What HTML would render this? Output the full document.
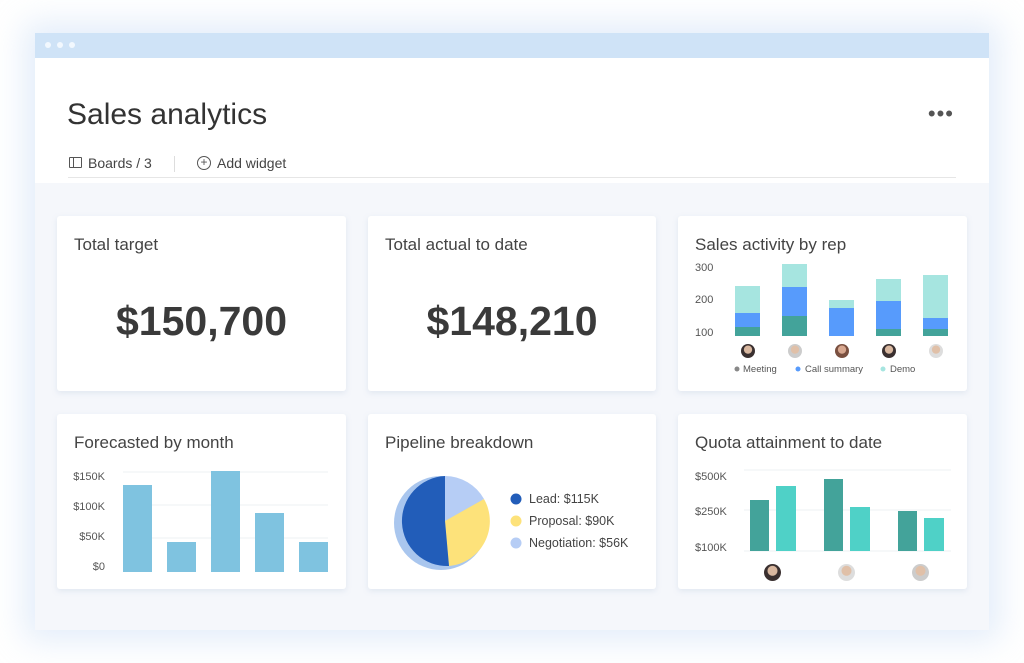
<!DOCTYPE html><html><head><meta charset="utf-8"><style>
*{margin:0;padding:0;box-sizing:border-box}
body{width:1024px;height:663px;background:#fff;font-family:"Liberation Sans",sans-serif;position:relative;overflow:hidden;color:#333}
.win{position:absolute;left:35px;top:33px;width:954px;height:597px;background:#f5f7fb;box-shadow:0 0 30px 10px rgba(200,220,245,.5)}
.bar{position:absolute;left:0;top:0;width:954px;height:25px;background:#cfe3f7}
.dot{position:absolute;top:9px;width:6px;height:6px;border-radius:50%;background:#f2f8fe}
.hdr{position:absolute;left:0;top:25px;width:954px;height:125px;background:#fff}
.card{position:absolute;background:#fff;border-radius:3px;box-shadow:0 2px 6px rgba(180,195,220,.3)}
.t{position:absolute;left:17px;top:19px;font-size:17px;color:#444}
.big{position:absolute;left:0;width:100%;top:82px;text-align:center;font-size:41px;font-weight:bold;color:#3a3a3a}
.a{position:absolute;font-size:11px;color:#555}
.b{position:absolute}
.av{position:absolute;width:14px;height:14px;border-radius:50%;background:radial-gradient(circle at 50% 40%,#d9b8a0 35%,#3a3030 40%)}
</style></head><body>
<div class="win">
<div class="bar"><div class="dot" style="left:10px"></div><div class="dot" style="left:22px"></div><div class="dot" style="left:34px"></div></div>
<div class="hdr">
<div style="position:absolute;left:32px;top:40px;font-size:30px;color:#333">Sales analytics</div>
<div style="position:absolute;right:35px;top:43px;font-size:22px;color:#555;letter-spacing:1px">•••</div>
<div style="position:absolute;left:34px;top:99px;width:13px;height:11px;border:1.3px solid #555;border-radius:1px"><div style="position:absolute;left:3px;top:0;width:1.3px;height:9px;background:#555"></div></div>
<div style="position:absolute;left:53px;top:97px;font-size:14px;color:#444">Boards / 3</div>
<div style="position:absolute;left:139px;top:98px;width:1px;height:16px;background:#ddd"></div>
<div style="position:absolute;left:162px;top:98px;width:14px;height:14px;border:1.3px solid #555;border-radius:50%;font-size:12px;line-height:11px;text-align:center;color:#555">+</div>
<div style="position:absolute;left:182px;top:97px;font-size:14px;color:#444">Add widget</div>
<div style="position:absolute;left:33px;top:119px;width:888px;height:1px;background:#e6e6e6"></div>
</div>
</div>

<div class="card" style="left:57px;top:216px;width:289px;height:175px"><div class="t">Total target</div><div class="big">$150,700</div></div>
<div class="card" style="left:368px;top:216px;width:288px;height:175px"><div class="t">Total actual to date</div><div class="big">$148,210</div></div>
<div class="card" style="left:678px;top:216px;width:289px;height:175px"><div class="t">Sales activity by rep</div></div>
<div class="card" style="left:57px;top:414px;width:289px;height:175px"><div class="t">Forecasted by month</div></div>
<div class="card" style="left:368px;top:414px;width:288px;height:175px"><div class="t">Pipeline breakdown</div></div>
<div class="card" style="left:678px;top:414px;width:289px;height:175px"><div class="t">Quota attainment to date</div></div>

<div class="a" style="left:695px;top:262px">300</div><div class="a" style="left:695px;top:294px">200</div><div class="a" style="left:695px;top:327px">100</div>
<svg class="b" style="left:0;top:0" width="1024" height="663">
<g>
<rect x="735" y="286" width="25" height="27" fill="#a6e5e0"/><rect x="735" y="313" width="25" height="14" fill="#579bfc"/><rect x="735" y="327" width="25" height="9" fill="#43a39a"/>
<rect x="782" y="264" width="25" height="23" fill="#a6e5e0"/><rect x="782" y="287" width="25" height="29" fill="#579bfc"/><rect x="782" y="316" width="25" height="20" fill="#43a39a"/>
<rect x="829" y="300" width="25" height="8" fill="#a6e5e0"/><rect x="829" y="308" width="25" height="28" fill="#579bfc"/>
<rect x="876" y="279" width="25" height="22" fill="#a6e5e0"/><rect x="876" y="301" width="25" height="28" fill="#579bfc"/><rect x="876" y="329" width="25" height="7" fill="#43a39a"/>
<rect x="923" y="275" width="25" height="43" fill="#a6e5e0"/><rect x="923" y="318" width="25" height="11" fill="#579bfc"/><rect x="923" y="329" width="25" height="7" fill="#43a39a"/>
</g>
<circle cx="737" cy="369" r="2.5" fill="#888"/><circle cx="798" cy="369" r="2.5" fill="#579bfc"/><circle cx="883" cy="369" r="2.5" fill="#a6e5e0"/>
<text x="743" y="372" font-size="9.5" fill="#555" font-family="Liberation Sans">Meeting</text>
<text x="805" y="372" font-size="9.5" fill="#555" font-family="Liberation Sans">Call summary</text>
<text x="890" y="372" font-size="9.5" fill="#555" font-family="Liberation Sans">Demo</text>
<g stroke="#eef0f3"><line x1="123" y1="472" x2="328" y2="472"/><line x1="123" y1="505" x2="328" y2="505"/><line x1="123" y1="538" x2="328" y2="538"/></g>
<g fill="#7fc3e0"><rect x="123" y="485" width="29" height="87"/><rect x="167" y="542" width="29" height="30"/><rect x="211" y="471" width="29" height="101"/><rect x="255" y="513" width="29" height="59"/><rect x="299" y="542" width="29" height="30"/></g>
<g font-size="11" fill="#555" text-anchor="end" font-family="Liberation Sans"><text x="105" y="480">$150K</text><text x="105" y="510">$100K</text><text x="105" y="540">$50K</text><text x="105" y="570">$0</text></g>
<circle cx="441" cy="523" r="47" fill="#a9c6ee"/>
<path d="M445 521 L445 476 A45 45 0 0 1 484 499 Z" fill="#b6cdf5"/>
<path d="M445 521 L484 499 A45 45 0 0 1 449 566 Z" fill="#fde27a"/>
<path d="M445 521 L449 566 A45 45 0 0 1 445 476 Z" fill="#225db9"/>
<circle cx="516" cy="499" r="5.5" fill="#225db9"/><circle cx="516" cy="521" r="5.5" fill="#fde27a"/><circle cx="516" cy="543" r="5.5" fill="#b6cdf5"/>
<g font-size="12.5" fill="#444" font-family="Liberation Sans"><text x="529" y="503">Lead: $115K</text><text x="529" y="525">Proposal: $90K</text><text x="529" y="547">Negotiation: $56K</text></g>
<g stroke="#eef0f3"><line x1="744" y1="470" x2="951" y2="470"/><line x1="744" y1="510" x2="951" y2="510"/><line x1="744" y1="551" x2="951" y2="551"/></g>
<g font-size="11" fill="#555" font-family="Liberation Sans"><text x="695" y="480">$500K</text><text x="695" y="515">$250K</text><text x="695" y="551">$100K</text></g>
<rect x="750" y="500" width="19" height="51" fill="#43a39a"/><rect x="776" y="486" width="20" height="65" fill="#4fd1c7"/>
<rect x="824" y="479" width="19" height="72" fill="#43a39a"/><rect x="850" y="507" width="20" height="44" fill="#4fd1c7"/>
<rect x="898" y="511" width="19" height="40" fill="#43a39a"/><rect x="924" y="518" width="20" height="33" fill="#4fd1c7"/>
</svg>
<div class="av" style="left:741px;top:344px"></div><div class="av" style="left:788px;top:344px;background:radial-gradient(circle at 50% 40%,#e0c0a8 35%,#ccc 40%)"></div><div class="av" style="left:835px;top:344px;background:radial-gradient(circle at 50% 40%,#d8a890 35%,#7a5040 40%)"></div><div class="av" style="left:882px;top:344px"></div><div class="av" style="left:929px;top:344px;background:radial-gradient(circle at 50% 40%,#e0c0a8 35%,#ddd 40%)"></div>
<div class="av" style="left:764px;top:564px;width:17px;height:17px"></div><div class="av" style="left:838px;top:564px;width:17px;height:17px;background:radial-gradient(circle at 50% 40%,#e0c0a8 35%,#ddd 40%)"></div><div class="av" style="left:912px;top:564px;width:17px;height:17px;background:radial-gradient(circle at 50% 40%,#e0c0a8 35%,#ccc 40%)"></div>
</body></html>
